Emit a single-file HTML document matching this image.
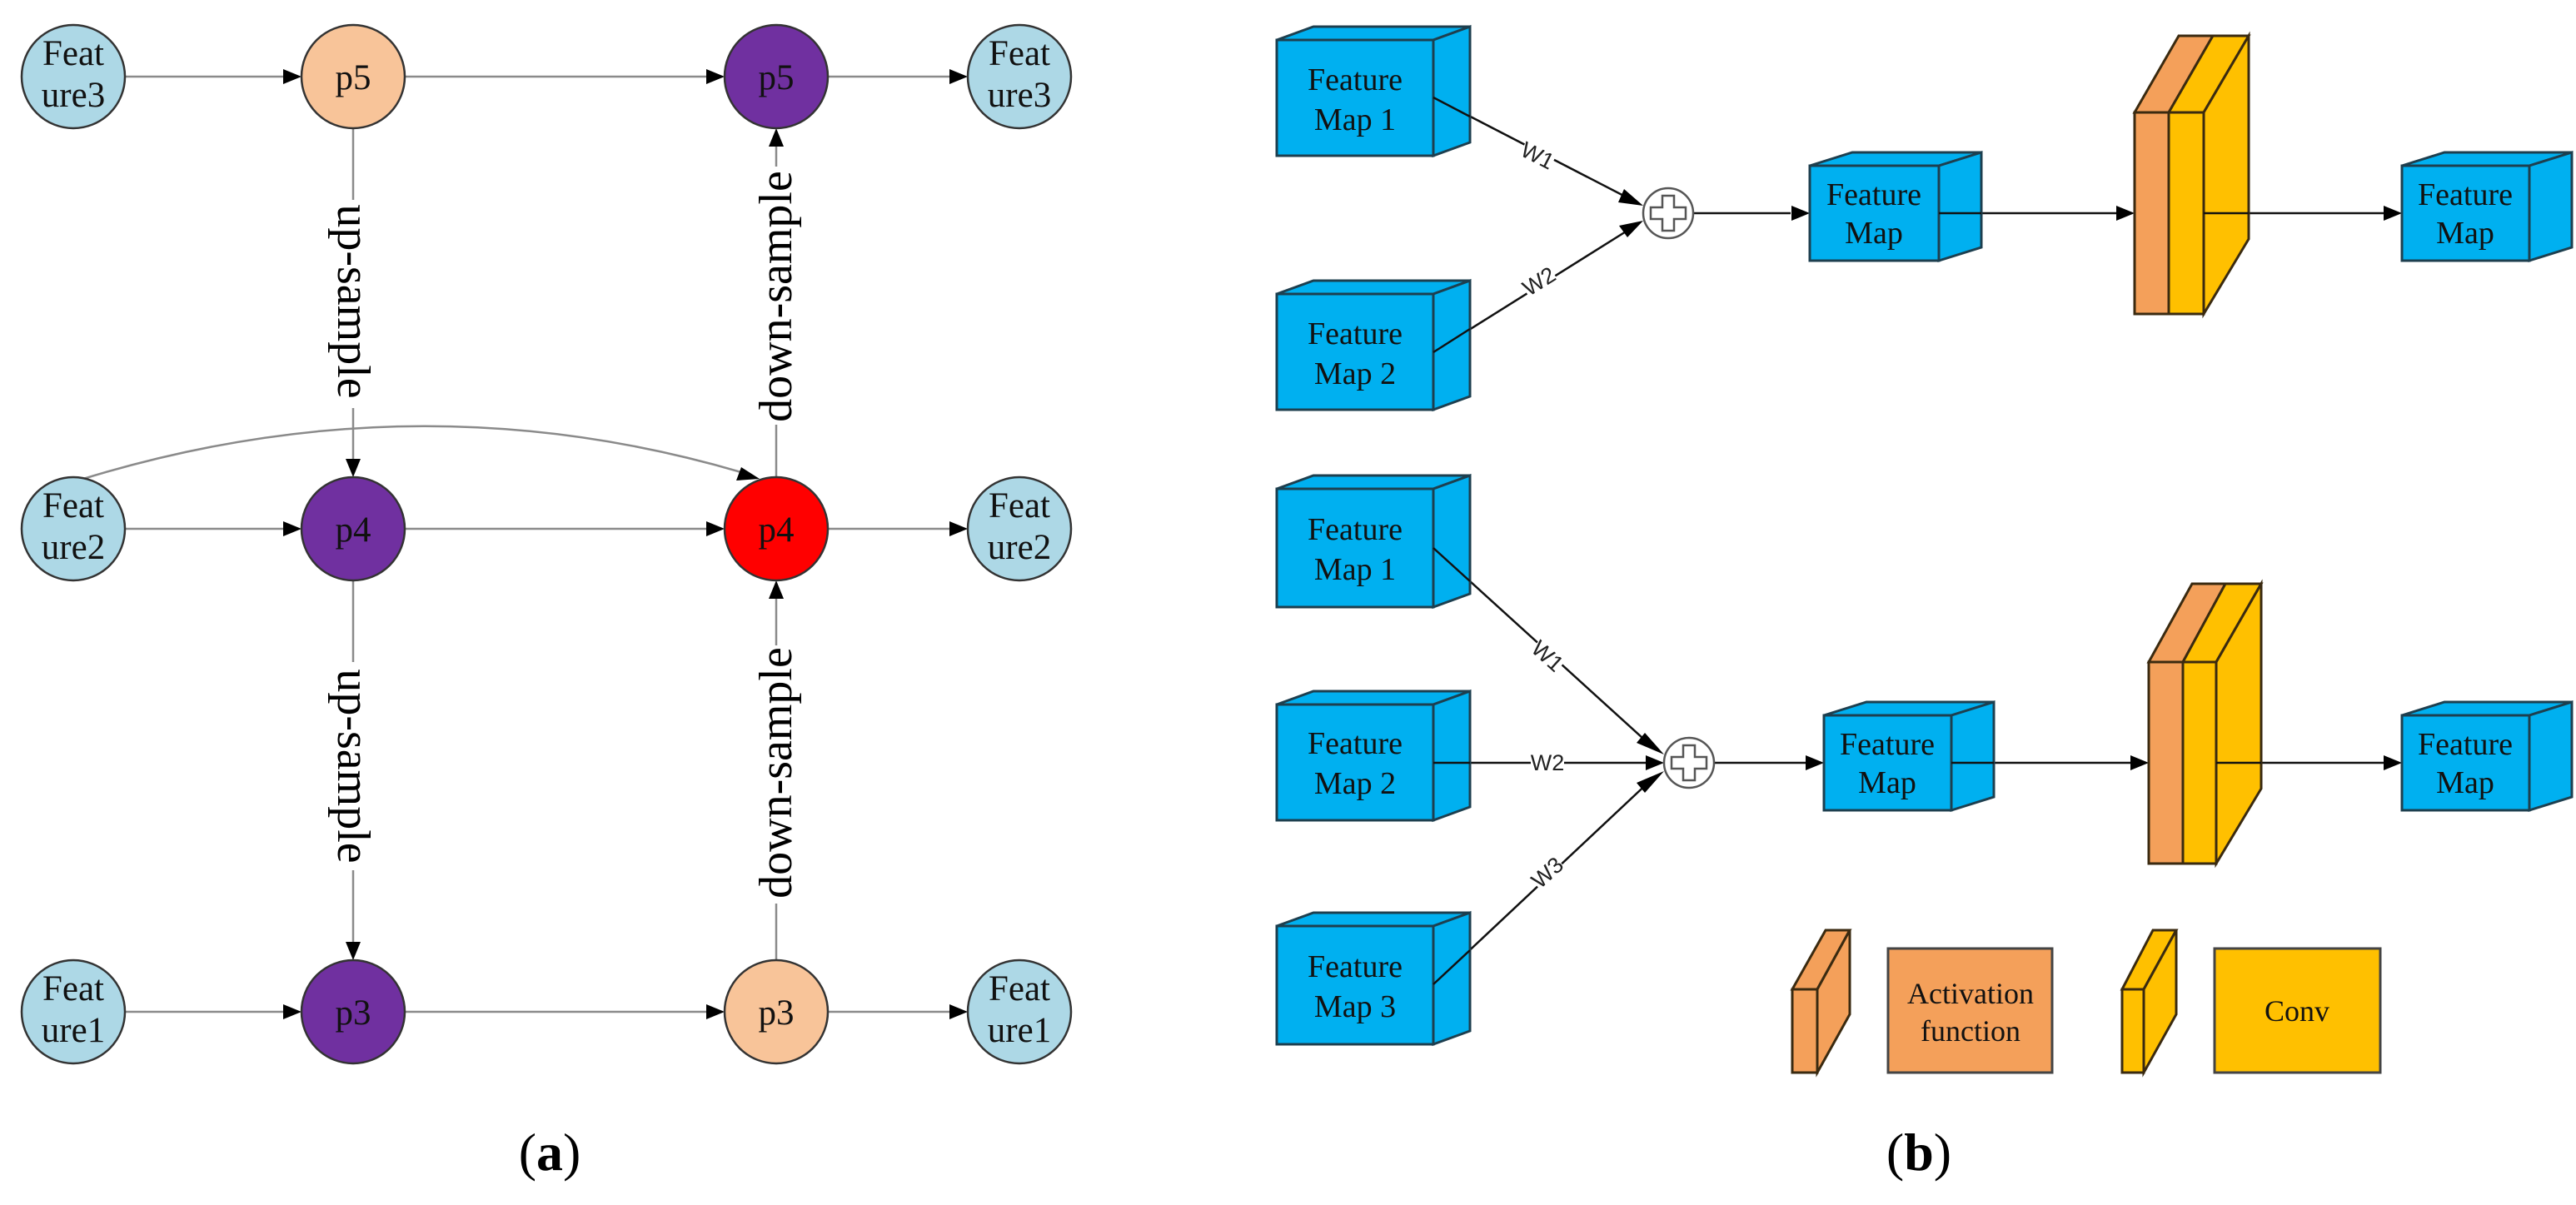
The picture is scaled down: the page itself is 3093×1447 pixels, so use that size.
<!DOCTYPE html>
<html><head><meta charset="utf-8"><style>
html,body{margin:0;padding:0;background:#fff;}
svg{display:block;}
text{font-family:"Liberation Serif",serif;}
.s{font-family:"Liberation Sans",sans-serif;}
</style></head><body>
<svg width="3093" height="1447" viewBox="0 0 3093 1447" xmlns="http://www.w3.org/2000/svg">
<defs>
<marker id="ah" markerWidth="10" markerHeight="8" refX="10" refY="4" orient="auto" markerUnits="userSpaceOnUse" viewBox="0 0 10 8">
</marker>
</defs>
<!-- ===== Panel (a) ===== -->
<g stroke="#8a8a8a" stroke-width="2.5" fill="none">
<line x1="150" y1="92" x2="342" y2="92"/>
<line x1="486" y1="92" x2="850" y2="92"/>
<line x1="994" y1="92" x2="1142" y2="92"/>
<line x1="150" y1="635" x2="342" y2="635"/>
<line x1="486" y1="635" x2="850" y2="635"/>
<line x1="994" y1="635" x2="1142" y2="635"/>
<line x1="150" y1="1215" x2="342" y2="1215"/>
<line x1="486" y1="1215" x2="850" y2="1215"/>
<line x1="994" y1="1215" x2="1142" y2="1215"/>
<line x1="424" y1="154" x2="424" y2="553"/>
<line x1="424" y1="697" x2="424" y2="1133"/>
<line x1="932" y1="573" x2="932" y2="174"/>
<line x1="932" y1="1153" x2="932" y2="717"/>
<path d="M100 575 Q504 451 900 570"/>
</g>
<g fill="#000">
<polygon points="362,92 340,83 340,101"/>
<polygon points="870,92 848,83 848,101"/>
<polygon points="1162,92 1140,83 1140,101"/>
<polygon points="362,635 340,626 340,644"/>
<polygon points="870,635 848,626 848,644"/>
<polygon points="1162,635 1140,626 1140,644"/>
<polygon points="362,1215 340,1206 340,1224"/>
<polygon points="870,1215 848,1206 848,1224"/>
<polygon points="1162,1215 1140,1206 1140,1224"/>
<polygon points="424,573 415,551 433,551"/>
<polygon points="424,1153 415,1131 433,1131"/>
<polygon points="932,154 923,176 941,176"/>
<polygon points="932,697 923,719 941,719"/>
<polygon points="912,575 890,561 884,577"/>
</g>
<!-- edge labels -->
<g font-size="56" fill="#000" text-anchor="middle" dominant-baseline="central">
<rect x="398" y="240" width="52" height="250" fill="#fff"/>
<text transform="translate(424,362) rotate(90)">up-sample</text>
<rect x="398" y="795" width="52" height="250" fill="#fff"/>
<text transform="translate(424,920) rotate(90)">up-sample</text>
<rect x="906" y="200" width="52" height="310" fill="#fff"/>
<text transform="translate(932,356) rotate(-90)">down-sample</text>
<rect x="906" y="775" width="52" height="310" fill="#fff"/>
<text transform="translate(932,928) rotate(-90)">down-sample</text>
</g>
<!-- nodes -->
<g stroke="#333" stroke-width="2.5">
<circle cx="88" cy="92" r="62" fill="#add8e6"/>
<circle cx="424" cy="92" r="62" fill="#f8c499"/>
<circle cx="932" cy="92" r="62" fill="#7030a0"/>
<circle cx="1224" cy="92" r="62" fill="#add8e6"/>
<circle cx="88" cy="635" r="62" fill="#add8e6"/>
<circle cx="424" cy="635" r="62" fill="#7030a0"/>
<circle cx="932" cy="635" r="62" fill="#ff0000"/>
<circle cx="1224" cy="635" r="62" fill="#add8e6"/>
<circle cx="88" cy="1215" r="62" fill="#add8e6"/>
<circle cx="424" cy="1215" r="62" fill="#7030a0"/>
<circle cx="932" cy="1215" r="62" fill="#f8c499"/>
<circle cx="1224" cy="1215" r="62" fill="#add8e6"/>
</g>
<g font-size="43" fill="#111" text-anchor="middle">
<text x="88" y="78">Feat</text><text x="88" y="128">ure3</text>
<text x="1224" y="78">Feat</text><text x="1224" y="128">ure3</text>
<text x="88" y="621">Feat</text><text x="88" y="671">ure2</text>
<text x="1224" y="621">Feat</text><text x="1224" y="671">ure2</text>
<text x="88" y="1201">Feat</text><text x="88" y="1251">ure1</text>
<text x="1224" y="1201">Feat</text><text x="1224" y="1251">ure1</text>
<text x="424" y="107">p5</text><text x="932" y="107">p5</text>
<text x="424" y="650">p4</text><text x="932" y="650">p4</text>
<text x="424" y="1230">p3</text><text x="932" y="1230">p3</text>
</g>
<text x="660" y="1405" font-size="64" text-anchor="middle">(<tspan font-weight="bold">a</tspan>)</text>
<text x="2304" y="1405" font-size="64" text-anchor="middle">(<tspan font-weight="bold">b</tspan>)</text>

<!-- ===== Panel (b) ===== -->
<!-- connectors -->
<g stroke="#111" stroke-width="2.5" fill="none">
<line x1="1721" y1="117" x2="1965" y2="243"/>
<line x1="1721" y1="423" x2="1965" y2="270"/>
<line x1="2033" y1="256" x2="2150" y2="256"/>
<line x1="2328" y1="256" x2="2545" y2="256"/>
<line x1="2646" y1="256" x2="2862" y2="256"/>
<line x1="1721" y1="658" x2="1983" y2="896"/>
<line x1="1721" y1="916" x2="1978" y2="916"/>
<line x1="1721" y1="1182" x2="1983" y2="936"/>
<line x1="2058" y1="916" x2="2168" y2="916"/>
<line x1="2343" y1="916" x2="2562" y2="916"/>
<line x1="2661" y1="916" x2="2862" y2="916"/>
</g>
<g fill="#000">
<polygon points="1973,247 1950,227 1943,243"/>
<polygon points="1973,265 1944,271 1954,285"/>
<polygon points="2173,256 2151,247 2151,265"/>
<polygon points="2563,256 2541,247 2541,265"/>
<polygon points="2884,256 2862,247 2862,265"/>
<polygon points="1998,906 1975,880 1965,892"/>
<polygon points="1998,916 1976,907 1976,925"/>
<polygon points="1998,926 1965,940 1975,952"/>
<polygon points="2190,916 2168,907 2168,925"/>
<polygon points="2580,916 2558,907 2558,925"/>
<polygon points="2884,916 2862,907 2862,925"/>
</g>
<!-- W labels -->
<g class="s" font-size="27" fill="#222" text-anchor="middle" dominant-baseline="central">
<rect x="1826" y="173" width="40" height="28" fill="#fff" transform="rotate(27 1846 187)"/>
<text class="s" transform="translate(1846,187) rotate(27)" style="font-family:'Liberation Sans',sans-serif">W1</text>
<rect x="1828" y="324" width="40" height="28" fill="#fff" transform="rotate(-32 1848 338)"/>
<text transform="translate(1848,338) rotate(-32)" style="font-family:'Liberation Sans',sans-serif">W2</text>
<rect x="1838" y="774" width="40" height="28" fill="#fff" transform="rotate(42 1858 788)"/>
<text transform="translate(1858,788) rotate(42)" style="font-family:'Liberation Sans',sans-serif">W1</text>
<rect x="1838" y="902" width="40" height="28" fill="#fff"/>
<text x="1858" y="916" style="font-family:'Liberation Sans',sans-serif">W2</text>
<rect x="1838" y="1034" width="40" height="28" fill="#fff" transform="rotate(-42 1858 1048)"/>
<text transform="translate(1858,1048) rotate(-42)" style="font-family:'Liberation Sans',sans-serif">W3</text>
</g>
<!-- plus circles -->
<g stroke="#555" stroke-width="2.5" fill="#fff">
<circle cx="2003" cy="256" r="30"/>
<path d="M1996 235 h14 v14 h14 v14 h-14 v14 h-14 v-14 h-14 v-14 h14 z"/>
<circle cx="2028" cy="916" r="30"/>
<path d="M2021 895 h14 v14 h14 v14 h-14 v14 h-14 v-14 h-14 v-14 h14 z"/>
</g>
<!-- cubes -->
<g stroke="#1d3f4f" stroke-width="3" fill="#00b0f0" stroke-linejoin="miter">
<!-- top FM1 -->
<polygon points="1533,48 1577,32 1765,32 1721,48"/>
<polygon points="1721,48 1765,32 1765,171 1721,187"/>
<rect x="1533" y="48" width="188" height="139"/>
<!-- top FM2 -->
<polygon points="1533,353 1577,337 1765,337 1721,353"/>
<polygon points="1721,353 1765,337 1765,476 1721,492"/>
<rect x="1533" y="353" width="188" height="139"/>
<!-- top mid FM -->
<polygon points="2173,199 2224,183 2379,183 2328,199"/>
<polygon points="2328,199 2379,183 2379,297 2328,313"/>
<rect x="2173" y="199" width="155" height="114"/>
<!-- top out FM -->
<polygon points="2884,199 2935,183 3088,183 3037,199"/>
<polygon points="3037,199 3088,183 3088,297 3037,313"/>
<rect x="2884" y="199" width="153" height="114"/>
<!-- bottom FM1 -->
<polygon points="1533,587 1577,571 1765,571 1721,587"/>
<polygon points="1721,587 1765,571 1765,713 1721,729"/>
<rect x="1533" y="587" width="188" height="142"/>
<!-- bottom FM2 -->
<polygon points="1533,846 1577,830 1765,830 1721,846"/>
<polygon points="1721,846 1765,830 1765,969 1721,985"/>
<rect x="1533" y="846" width="188" height="139"/>
<!-- bottom FM3 -->
<polygon points="1533,1112 1577,1096 1765,1096 1721,1112"/>
<polygon points="1721,1112 1765,1096 1765,1238 1721,1254"/>
<rect x="1533" y="1112" width="188" height="142"/>
<!-- bottom mid FM -->
<polygon points="2190,859 2241,843 2394,843 2343,859"/>
<polygon points="2343,859 2394,843 2394,957 2343,973"/>
<rect x="2190" y="859" width="153" height="114"/>
<!-- bottom out FM -->
<polygon points="2884,859 2935,843 3088,843 3037,859"/>
<polygon points="3037,859 3088,843 3088,957 3037,973"/>
<rect x="2884" y="859" width="153" height="114"/>
</g>
<!-- redraw connector segments over cube sides -->
<g stroke="#111" stroke-width="2.5">
<line x1="1721" y1="117" x2="1765" y2="140"/>
<line x1="1721" y1="423" x2="1765" y2="395"/>
<line x1="2328" y1="256" x2="2379" y2="256"/>
<line x1="1721" y1="658" x2="1765" y2="698"/>
<line x1="1721" y1="916" x2="1765" y2="916"/>
<line x1="1721" y1="1182" x2="1765" y2="1141"/>
<line x1="2343" y1="916" x2="2394" y2="916"/>
</g>
<g font-size="38" fill="#111" text-anchor="middle">
<text x="1627" y="108">Feature</text><text x="1627" y="156">Map 1</text>
<text x="1627" y="413">Feature</text><text x="1627" y="461">Map 2</text>
<text x="2250" y="246">Feature</text><text x="2250" y="292">Map</text>
<text x="2960" y="246">Feature</text><text x="2960" y="292">Map</text>
<text x="1627" y="648">Feature</text><text x="1627" y="696">Map 1</text>
<text x="1627" y="905">Feature</text><text x="1627" y="953">Map 2</text>
<text x="1627" y="1173">Feature</text><text x="1627" y="1221">Map 3</text>
<text x="2266" y="906">Feature</text><text x="2266" y="952">Map</text>
<text x="2960" y="906">Feature</text><text x="2960" y="952">Map</text>
</g>
<!-- slabs -->
<g stroke="#3a2a10" stroke-width="3" stroke-linejoin="miter">
<!-- top slab -->
<polygon points="2563,135 2616,43 2657,43 2604,135" fill="#f4a05a"/>
<polygon points="2604,135 2657,43 2700,43 2646,135" fill="#ffc000"/>
<polygon points="2646,135 2700,43 2700,287 2646,377" fill="#ffc000"/>
<rect x="2563" y="135" width="41" height="242" fill="#f4a05a"/>
<rect x="2604" y="135" width="42" height="242" fill="#ffc000"/>
<!-- bottom slab -->
<polygon points="2580,795 2632,701 2672,701 2621,795" fill="#f4a05a"/>
<polygon points="2621,795 2672,701 2715,701 2661,795" fill="#ffc000"/>
<polygon points="2661,795 2715,701 2715,947 2661,1037" fill="#ffc000"/>
<rect x="2580" y="795" width="41" height="242" fill="#f4a05a"/>
<rect x="2621" y="795" width="40" height="242" fill="#ffc000"/>
<!-- legend -->
<polygon points="2152,1188 2192,1117 2221,1117 2182,1188" fill="#f4a05a"/>
<polygon points="2182,1188 2221,1117 2221,1218 2182,1288" fill="#f4a05a"/>
<rect x="2152" y="1188" width="30" height="100" fill="#f4a05a"/>
<polygon points="2548,1188 2585,1117 2613,1117 2574,1188" fill="#ffc000"/>
<polygon points="2574,1188 2613,1117 2613,1218 2574,1288" fill="#ffc000"/>
<rect x="2548" y="1188" width="26" height="100" fill="#ffc000"/>
</g>
<g stroke="#111" stroke-width="2.5">
<line x1="2646" y1="256" x2="2700" y2="256"/>
<line x1="2661" y1="916" x2="2715" y2="916"/>
</g>
<rect x="2267" y="1139" width="197" height="149" fill="#f4a05a" stroke="#444" stroke-width="3"/>
<rect x="2659" y="1139" width="199" height="149" fill="#ffc000" stroke="#444" stroke-width="3"/>
<g font-size="36" fill="#111" text-anchor="middle">
<text x="2366" y="1205">Activation</text><text x="2366" y="1250">function</text>
<text x="2758" y="1226">Conv</text>
</g>
</svg>
</body></html>
